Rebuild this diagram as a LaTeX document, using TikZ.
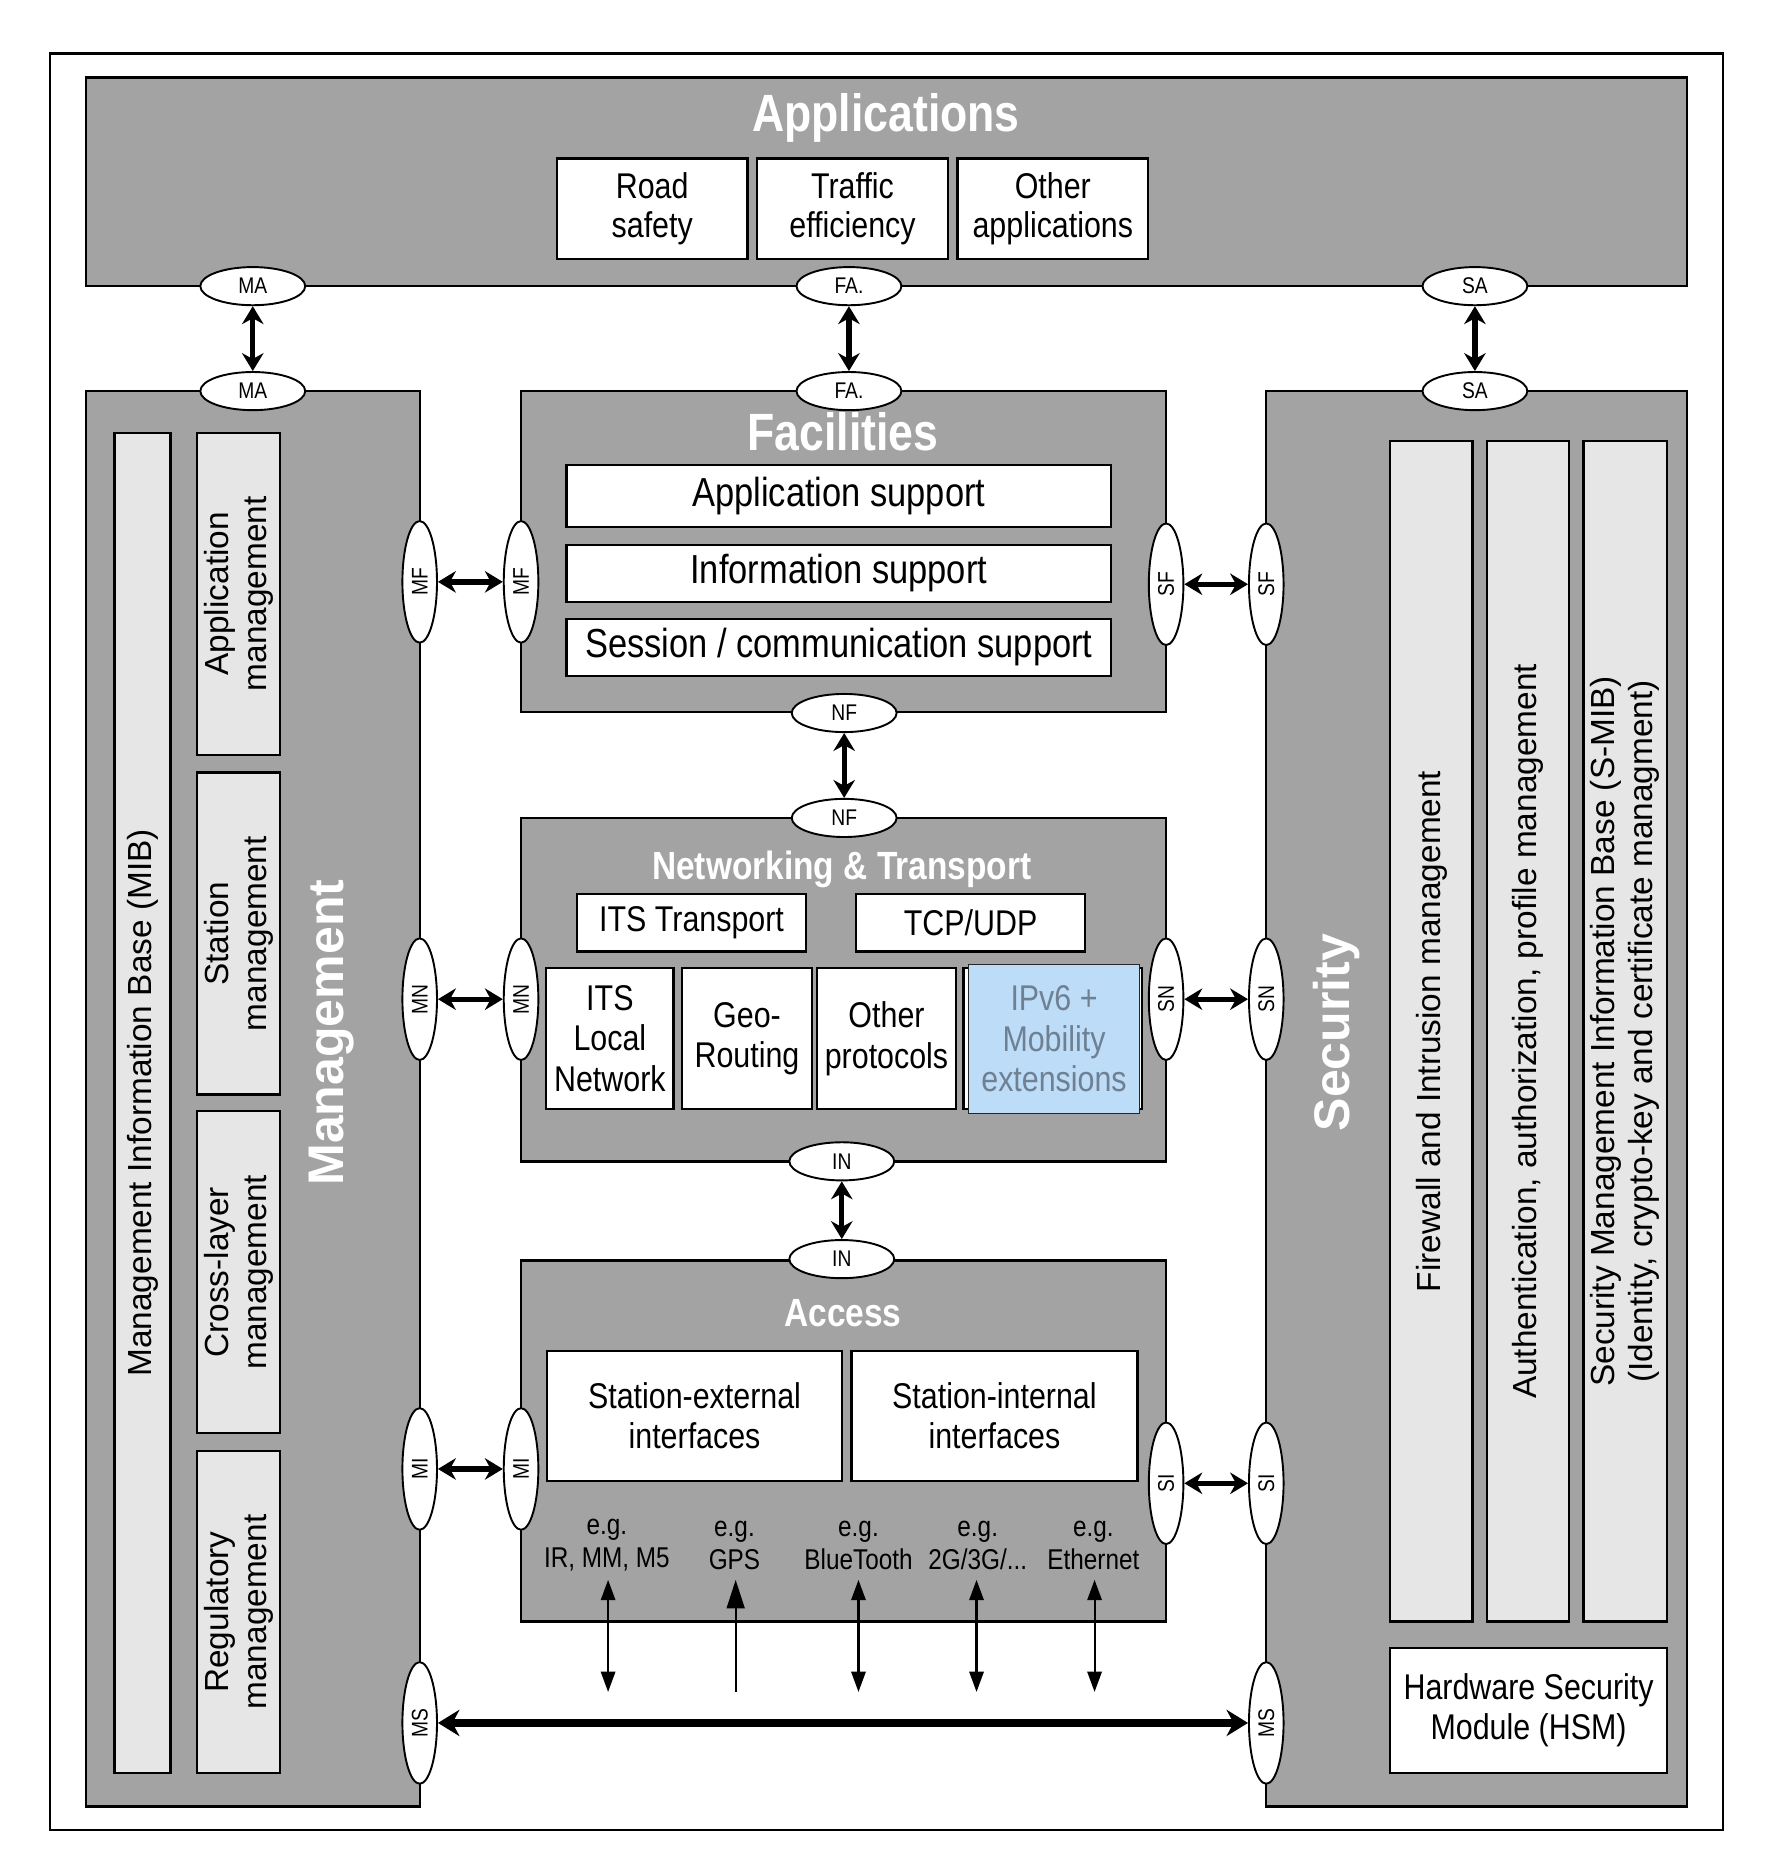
\documentclass[tikz,border=0pt]{standalone}
\usepackage{fontspec}
\setmainfont{Liberation Sans}
\newfontfamily\nar[FakeStretch=0.85]{Liberation Sans}
\usetikzlibrary{arrows.meta,fit,shapes.geometric}
\definecolor{blk}{HTML}{A3A3A3}
\definecolor{lgray}{HTML}{E6E6E6}
\definecolor{hl}{HTML}{BDDCF7}
\definecolor{hltext}{HTML}{6F8093}
\begin{document}
\begin{tikzpicture}[x=1pt,y=-1pt,
  layer/.style={draw, fill=blk, line width=2pt, inner sep=0pt},
  wbox/.style={draw, fill=white, line width=2pt, inner sep=0pt, align=center, font=\nar\fontsize{30}{34}\selectfont},
  wlbl/.style={inner sep=0pt, align=center, font=\nar\fontsize{30}{34}\selectfont},
  flbl/.style={wlbl, font=\nar\fontsize{34}{36}\selectfont},
  gbox/.style={draw, fill=lgray, line width=2pt, inner sep=0pt},
  vtext/.style={rotate=90, align=center, font=\fontsize{28}{32}\selectfont},
  ttl/.style={text=white, inner sep=0pt, font=\nar\bfseries\fontsize{44}{46}\selectfont},
  sttl/.style={ttl, font=\nar\bfseries\fontsize{33}{36}\selectfont},
  sap/.style={ellipse, draw, fill=white, line width=1.6pt, minimum width=88pt, minimum height=32pt, inner sep=0pt, font=\nar\fontsize{19}{19}\selectfont},
  vsap/.style={sap, rotate=90, minimum width=102pt, minimum height=29pt},
  dbl/.style={line width=4.5pt, {Stealth[length=15pt,width=18pt]}-{Stealth[length=15pt,width=18pt]}},
  bigdbl/.style={line width=7pt, {Stealth[length=18pt,width=22pt]}-{Stealth[length=18pt,width=22pt]}},
  thinarr/.style={line width=1.8pt, {Triangle[length=17pt,width=12pt]}-{Triangle[length=17pt,width=12pt]}},
  uparr/.style={line width=1.8pt, -{Triangle[length=24pt,width=15pt]}},
  eg/.style={align=center, inner sep=0pt, font=\nar\fontsize{24}{28}\selectfont}
]
\useasboundingbox (0,0) rectangle (1480,1565);
% outer frame
\node[draw, line width=2pt, inner sep=0pt, fit={(42,45) (1445,1535)}] (frame) {};

% main layers
\node[layer, fit={(72,65) (1415,240)}] (app) {};
\node[layer, fit={(72,328) (352,1515)}] (mgmt) {};
\node[layer, fit={(437,328) (978,597)}] (fac) {};
\node[layer, fit={(437,686) (978,974)}] (net) {};
\node[layer, fit={(437,1057) (978,1360)}] (acc) {};
\node[layer, fit={(1062,328) (1415,1515)}] (sec) {};

% titles
\node[ttl] (appT) at (743,99) {Applications};
\node[ttl] (facT) at (707,362) {Facilities};
\node[sttl] (netT) at (706,729) {Networking \& Transport};
\node[sttl] (accT) at (707,1101) {Access};
\node[ttl, rotate=90, font=\bfseries\fontsize{42}{44}\selectfont] (mgmtT) at (278,866) {Management};
\node[ttl, rotate=90, font=\bfseries\fontsize{42}{44}\selectfont] (secT) at (1121,866) {Security};

% applications
\node[wbox, fit={(467,133) (627,217)}] (road) {};
\node[wlbl, font=\nar\fontsize{30}{33}\selectfont] at (road) {Road\\safety};
\node[wbox, fit={(635,133) (795,217)}] (traffic) {};
\node[wlbl, font=\nar\fontsize{30}{33}\selectfont] at (traffic) {Traffic\\efficiency};
\node[wbox, fit={(803,133) (963,217)}] (other) {};
\node[wlbl, font=\nar\fontsize{30}{33}\selectfont] at (other) {Other\\applications};

% management
\node[gbox, fit={(96,363) (143,1487)}] (mib) {};
\node[vtext] at (mib) {Management Information Base (MIB)};
\node[gbox, fit={(165,363) (235,633)}] (appm) {};
\node[vtext] at (appm) {Application\\management};
\node[gbox, fit={(165,648) (235,918)}] (stam) {};
\node[vtext] at (stam) {Station\\management};
\node[gbox, fit={(165,932) (235,1202)}] (crossm) {};
\node[vtext] at (crossm) {Cross-layer\\management};
\node[gbox, fit={(165,1217) (235,1487)}] (regm) {};
\node[vtext] at (regm) {Regulatory\\management};

% security
\node[gbox, fit={(1166,370) (1235,1360)}] (fw) {};
\node[vtext] at (fw) {Firewall and Intrusion management};
\node[gbox, fit={(1247,370) (1316,1360)}] (auth) {};
\node[vtext] at (auth) {Authentication, authorization, profile management};
\node[gbox, fit={(1328,370) (1398,1360)}] (smib) {};
\node[vtext] at (smib) {Security Management Information Base (S-MIB)\\(Identity, crypto-key and certificate managment)};
\node[wbox, fit={(1166,1382) (1398,1487)}] (hsm) {};
\node[wlbl] at (hsm) {Hardware Security\\Module (HSM)};

% facilities
\node[wbox, fit={(475,390) (932,442)}] (appsup) {};
\node[flbl] at (appsup) {Application support};
\node[wbox, fit={(475,457) (932,505)}] (infsup) {};
\node[flbl] at (infsup) {Information support};
\node[wbox, fit={(475,519) (932,567)}] (sessup) {};
\node[flbl] at (sessup) {Session / communication support};

% networking
\node[wbox, fit={(484,750) (676,798)}] (itst) {};
\node[wlbl] at (itst) {ITS Transport};
\node[wbox, fit={(718,750) (910,798)}] (tcp) {};
\node[wlbl] at (tcp) {TCP/UDP};
\node[wbox, fit={(458,812) (565,930)}] (itsl) {};
\node[wlbl] at (itsl) {ITS\\Local\\Network};
\node[wbox, fit={(572,812) (681,930)}] (geo) {};
\node[wlbl] at (geo) {Geo-\\Routing};
\node[wbox, fit={(685,812) (802,930)}] (othp) {};
\node[wlbl] at (othp) {Other\\protocols};
\node[wbox, fit={(808,812) (958,930)}] (ipv6) {};
\node[draw=black!85, line width=1pt, fill=hl, inner sep=0pt, fit={(812,809) (956,934)}] (ipv6hl) {};
\node[wlbl, text=hltext] at (ipv6hl) {IPv6 +\\Mobility\\extensions};

% access
\node[wbox, fit={(459,1133) (706,1242)}] (sext) {};
\node[wlbl] at (sext) {Station-external\\interfaces};
\node[wbox, fit={(714,1133) (954,1242)}] (sint) {};
\node[wlbl] at (sint) {Station-internal\\interfaces};

\node[eg] (eg1) at (509,1296) {e.g.\\IR, MM, M5};
\node[eg] (eg2) at (616,1296) {e.g.\\GPS};
\node[eg] (eg3) at (720,1296) {e.g.\\BlueTooth};
\node[eg] (eg4) at (820,1296) {e.g.\\2G/3G/...};
\node[eg] (eg5) at (917,1296) {e.g.\\Ethernet};
\coordinate (e1t) at (510,1325); \coordinate (e1b) at (510,1419);
\coordinate (e2t) at (617,1325); \coordinate (e2b) at (617,1419);
\coordinate (e3t) at (720,1325); \coordinate (e3b) at (720,1419);
\coordinate (e4t) at (819,1325); \coordinate (e4b) at (819,1419);
\coordinate (e5t) at (918,1325); \coordinate (e5b) at (918,1419);
\draw[thinarr] (e1t) -- (e1b);
\draw[uparr] (e2b) -- (e2t);
\draw[thinarr] (e3t) -- (e3b);
\draw[thinarr] (e4t) -- (e4b);
\draw[thinarr] (e5t) -- (e5b);

% service access points
\node[sap] (ma1) at (212,240) {MA};
\node[sap] (ma2) at (212,328) {MA};
\node[sap] (fa1) at (712,240) {FA.};
\node[sap] (fa2) at (712,328) {FA.};
\node[sap] (sa1) at (1237,240) {SA};
\node[sap] (sa2) at (1237,328) {SA};
\node[sap] (nf1) at (708,598) {NF};
\node[sap] (nf2) at (708,686) {NF};
\node[sap] (in1) at (706,974) {IN};
\node[sap] (in2) at (706,1056) {IN};

\node[vsap] (mf1) at (352,488) {MF};
\node[vsap] (mf2) at (437,488) {MF};
\node[vsap] (sf1) at (978,490) {SF};
\node[vsap] (sf2) at (1062,490) {SF};
\node[vsap] (mn1) at (352,838) {MN};
\node[vsap] (mn2) at (437,838) {MN};
\node[vsap] (sn1) at (978,838) {SN};
\node[vsap] (sn2) at (1062,838) {SN};
\node[vsap] (mi1) at (352,1232) {MI};
\node[vsap] (mi2) at (437,1232) {MI};
\node[vsap] (si1) at (978,1244) {SI};
\node[vsap] (si2) at (1062,1244) {SI};
\node[vsap] (ms1) at (352,1445) {MS};
\node[vsap] (ms2) at (1062,1445) {MS};

\draw[dbl] (ma1) -- (ma2);
\draw[dbl] (fa1) -- (fa2);
\draw[dbl] (sa1) -- (sa2);
\draw[dbl] (nf1) -- (nf2);
\draw[dbl] (in1) -- (in2);
\draw[dbl] (mf1) -- (mf2);
\draw[dbl] (sf1) -- (sf2);
\draw[dbl] (mn1) -- (mn2);
\draw[dbl] (sn1) -- (sn2);
\draw[dbl] (mi1) -- (mi2);
\draw[dbl] (si1) -- (si2);
\draw[bigdbl] (ms1) -- (ms2);
\end{tikzpicture}
\end{document}
